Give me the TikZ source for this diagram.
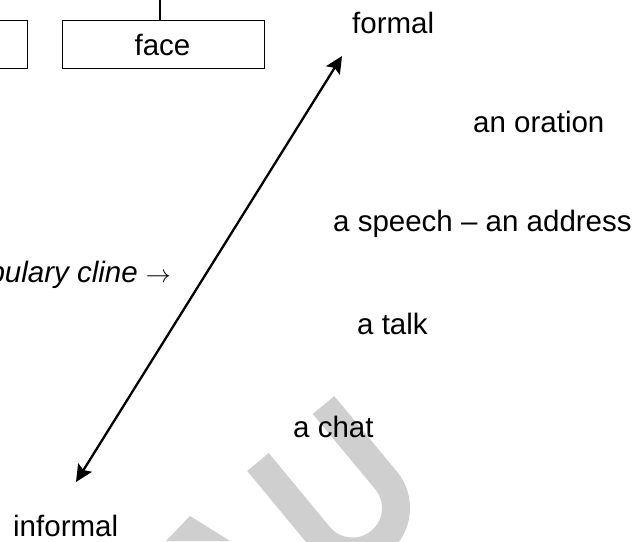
\documentclass[tikz,border=0pt]{standalone}
\usepackage{fontspec}
\setmainfont{Liberation Sans}
\usetikzlibrary{arrows.meta}
\tikzset{
  lbl/.style={inner sep=0pt, anchor=base west, font=\fontsize{29.5}{35}\selectfont},
  boxed/.style={draw=black, line width=1pt, minimum width=202pt, minimum height=48pt, inner sep=0pt},
  cline/.style={line width=2.3pt, {Stealth[length=17pt,width=16pt,inset=3pt]}-{Stealth[length=17pt,width=16pt,inset=3pt]}},
  wmark/.style={draw=black!19, line width=28pt}
}
\begin{document}
\begin{tikzpicture}[x=1pt,y=1pt]
\useasboundingbox (0,0) rectangle (644,-541);
\clip (0,0) rectangle (644,-541);
% watermark
\draw[wmark] (323.5,-405) -- (386,-480.3) arc[start angle=39.6, end angle=-140.4, radius=43.5] -- (258,-462);
\fill[black!19] (166,-541) -- (190,-516) -- (230,-541) -- cycle;
% boxes
\node[boxed] (leftbox) at (-74,-44) {};
\node[boxed] (face) at (163,-44) {};
\node[inner sep=0pt, anchor=base, font=\fontsize{29.5}{35}\selectfont] (facetxt) at (162.5,-55) {face};
\coordinate (top) at (160,0);
\draw[line width=2.4pt] (top) -- (top |- face.north);
% cline
\coordinate (lo) at (76,-482);
\coordinate (hi) at (342,-56);
\draw[cline] (lo) -- (hi);
% labels
\node[lbl] (formal) at (352,-33) {formal};
\node[lbl] (oration) at (473,-132) {an oration};
\node[lbl] (speech) at (333,-231) {a speech – an address};
\node[lbl] (talk) at (357,-334) {a talk};
\node[lbl] (chat) at (293,-437) {a chat};
\node[lbl] (informal) at (13,-536) {informal};
\node[inner sep=0pt, anchor=base east, font=\fontsize{29.5}{35}\selectfont] (vocab) at (171,-282) {\textit{vocabulary cline} $\rightarrow$};
\end{tikzpicture}
\end{document}
